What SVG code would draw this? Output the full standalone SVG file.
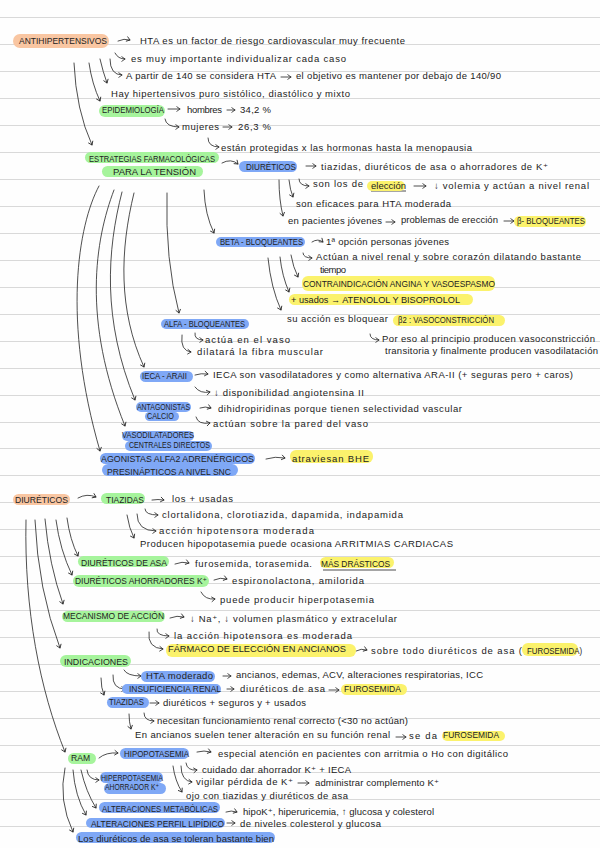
<svg xmlns="http://www.w3.org/2000/svg" width="600" height="848" viewBox="0 0 600 848">
<style>
text{font-family:"Liberation Sans","DejaVu Sans",sans-serif;font-size:9.5px;fill:#222}
.u{font-size:9px}
.o{fill:#f9c6a2}.g{fill:#a6f49c}.b{fill:#7fa8f6}.y{fill:#fbf26c}
.l{stroke:#d9d9d9;stroke-width:1.2;fill:none}
.a{fill:none;stroke:#222;stroke-width:.8;stroke-linecap:round;marker-end:url(#m)}
.n{fill:none;stroke:#222;stroke-width:.8}
</style>
<defs><marker id="m" markerUnits="userSpaceOnUse" markerWidth="7" markerHeight="7" refX="5.5" refY="3.5" orient="auto"><path d="M2 1L5.5 3.5L2 6" fill="none" stroke="#222" stroke-width=".8"/></marker></defs>
<rect width="600" height="848" fill="#fefefe"/>
<g id="rules" class="l"><path d="M0 17.500H600M0 44.500H600M0 71.500H600M0 98.500H600M0 125.500H600M0 152.500H600M0 179.500H600M0 206.500H600M0 233.500H600M0 260.500H600M0 287.500H600M0 314.500H600M0 341.500H600M0 368.500H600M0 395.500H600M0 422.500H600M0 448.500H600M0 475.500H600M0 502.500H600M0 529.500H600M0 556.500H600M0 583.500H600M0 610.500H600M0 637.500H600M0 664.500H600M0 691.500H600M0 718.500H600M0 745.500H600M0 772.500H600M0 799.500H600M0 826.500H600"/></g>
<g id="connectors">
<path class="a" d="M118 41Q124 38 130 40"/>
<path class="a" d="M115 53Q118 59 125 59"/>
<path class="a" d="M110 59Q110 75 122 75"/>
<path class="a" d="M281 77H291"/>
<path class="a" d="M100 59Q103 72 107 83"/>
<path class="a" d="M89 63Q92 84 100 101"/>
<path class="a" d="M74 63Q76 110 92 145"/>
<path class="a" d="M168 109H180"/>
<path class="a" d="M227 110H235"/>
<path class="a" d="M165 119Q166 127 179 127"/>
<path class="a" d="M223 127H232"/>
<path class="a" d="M208 138Q208 147 219 147"/>
<path class="a" d="M222 163Q231 158 238 164"/>
<path class="a" d="M306 166H316"/>
<path class="a" d="M299 179Q299 186 309 186"/>
<path class="a" d="M414 186H426"/>
<path class="a" d="M289 180Q290 190 293 197"/>
<path class="a" d="M279 180Q279 200 283 216"/>
<path class="a" d="M386 222H395"/>
<path class="a" d="M504 221H514"/>
<path class="a" d="M204 190Q205 215 214 233"/>
<path class="a" d="M99 186C78 225 62 320 100 451"/>
<path class="a" d="M114 190C95 240 82 320 125 426"/>
<path class="a" d="M122 192C107 250 102 320 135 400"/>
<path class="a" d="M134 193C120 250 118 310 144 367"/>
<path class="a" d="M167 193Q165 260 179 313"/>
<path class="a" d="M312 242Q318 238 323 242"/>
<path class="a" d="M303 253Q303 258 312 258"/>
<path class="a" d="M291 255Q293 267 298 277"/>
<path class="a" d="M280 257Q282 276 289 292"/>
<path class="a" d="M268 258Q271 288 281 310"/>
<path class="a" d="M195 333Q194 340 203 340"/>
<path class="a" d="M182 335Q180 351 191 352"/>
<path class="a" d="M370 334Q370 340 379 340"/>
<path class="a" d="M195 375Q201 373 208 374"/>
<path class="a" d="M195 387Q200 394 210 392"/>
<path class="a" d="M200 408Q205 406 211 408"/>
<path class="a" d="M196 417Q198 425 210 423"/>
<path class="a" d="M266 459Q275 456 285 458"/>
<path class="a" d="M78 498Q87 493 96 497"/>
<path class="a" d="M152 500Q158 499 164 500"/>
<path class="a" d="M145 509Q145 515 158 515"/>
<path class="a" d="M137 514Q137 531 156 531"/>
<path class="a" d="M127 515Q129 528 134 538"/>
<path class="a" d="M67 518Q70 540 78 556"/>
<path class="a" d="M56 520Q60 550 72 575"/>
<path class="a" d="M45 519Q49 565 63 604"/>
<path class="a" d="M35 520Q38 590 60 648"/>
<path class="a" d="M26 520C24 610 40 690 65 752"/>
<path class="a" d="M175 564Q182 561 189 563"/>
<path class="a" d="M214 580Q220 577 227 579"/>
<path class="a" d="M201 592Q205 600 215 599"/>
<path class="a" d="M170 618Q177 615 184 617"/>
<path class="a" d="M157 629Q156 636 169 636"/>
<path class="a" d="M149 632Q147 648 163 649"/>
<path class="a" d="M356 651Q361 648 367 650"/>
<path class="a" d="M124 670Q127 676 141 676"/>
<path class="a" d="M223 676H231"/>
<path class="a" d="M113 675Q112 689 125 689"/>
<path class="a" d="M227 689H234"/>
<path class="a" d="M329 690H339"/>
<path class="a" d="M101 678Q101 688 104 695"/>
<path class="a" d="M150 703H159"/>
<path class="a" d="M144 713Q144 721 154 721"/>
<path class="a" d="M129 714Q129 722 131 729"/>
<path class="a" d="M396 737H406"/>
<path class="a" d="M99 758Q106 752 118 753"/>
<path class="a" d="M197 752Q204 750 211 752"/>
<path class="a" d="M186 763Q187 771 197 770"/>
<path class="a" d="M181 766Q181 781 192 782"/>
<path class="a" d="M298 783H309"/>
<path class="a" d="M173 766Q175 781 182 792"/>
<path class="a" d="M87 770Q88 780 99 780"/>
<path class="a" d="M81 770Q86 792 96 808"/>
<path class="a" d="M73 770Q75 796 86 815"/>
<path class="a" d="M65 768Q58 800 73 832"/>
<path class="a" d="M226 812Q231 810 237 812"/>
<path class="a" d="M227 823H235"/>
<path class="n" d="M371 191H406M323 570H396"/>
</g>
<g id="n-antihipertensivos"><rect class="o" x="13" y="34" width="96" height="14" rx="7"/><text class="u" x="19" y="44" textLength="88" lengthAdjust="spacingAndGlyphs">ANTIHIPERTENSIVOS</text></g>
<g id="n-notas-hta">
<text x="140" y="44" textLength="265">HTA es un factor de riesgo cardiovascular muy frecuente</text>
<text x="131" y="62" textLength="215">es muy importante individualizar cada caso</text>
<text x="126" y="79" textLength="150">A partir de 140 se considera HTA</text>
<text x="296" y="79" textLength="205">el objetivo es mantener por debajo de 140/90</text>
<text x="111" y="97" textLength="239">Hay hipertensivos puro sistólico, diastólico y mixto</text>
</g>
<g id="n-epidemiologia"><rect class="g" x="99" y="105" width="66" height="12" rx="6"/><text class="u" x="102" y="113" textLength="62" lengthAdjust="spacingAndGlyphs">EPIDEMIOLOGÍA</text>
<text x="187" y="113" textLength="35">hombres</text><text x="240" y="113" textLength="31">34,2 %</text>
<text x="182" y="130" textLength="37">mujeres</text><text x="238" y="130" textLength="33">26,3 %</text>
<text x="221" y="151" textLength="251">están protegidas x las hormonas hasta la menopausia</text></g>
<g id="n-estrategias"><rect class="g" x="85" y="152" width="134" height="11" rx="5.5"/><rect class="g" x="102" y="166" width="101" height="11" rx="5.5"/><text class="u" x="89" y="162" textLength="126" lengthAdjust="spacingAndGlyphs">ESTRATEGIAS FARMACOLÓGICAS</text><text class="u" x="113" y="175" textLength="83" lengthAdjust="spacingAndGlyphs">PARA LA TENSIÓN</text></g>
<g id="n-diureticos-1"><rect class="b" x="239" y="161" width="58" height="11" rx="5.5"/><text class="u" x="246" y="170" textLength="50" lengthAdjust="spacingAndGlyphs">DIURÉTICOS</text>
<text x="321" y="170" textLength="227">tiazidas, diuréticos de asa o ahorradores de K⁺</text>
<text x="313" y="187" textLength="50">son los de</text>
<rect class="y" x="367" y="181" width="38" height="10" rx="5"/><text x="371" y="189" textLength="35">elección</text>
<text x="434" y="189" textLength="155">↓ volemia y actúan a nivel renal</text>
<text x="296" y="207" textLength="155">son eficaces para HTA moderada</text>
<text x="288" y="224" textLength="94">en pacientes jóvenes</text>
<text x="401" y="223" textLength="97">problemas de erección</text>
<rect class="y" x="514" y="216" width="72" height="11" rx="5.5"/><text class="u" x="517" y="224" textLength="68" lengthAdjust="spacingAndGlyphs">β- BLOQUEANTES</text></g>
<g id="n-beta"><rect class="b" x="216" y="237" width="89" height="10" rx="5"/><text class="u" x="220" y="245" textLength="83" lengthAdjust="spacingAndGlyphs">BETA - BLOQUEANTES</text>
<text x="326" y="245" textLength="123">1ª opción personas jóvenes</text>
<text x="316" y="260" textLength="265">Actúan a nivel renal y sobre corazón dilatando bastante</text>
<text x="320" y="273" textLength="26">tiempo</text>
<rect class="y" x="302" y="276" width="193" height="15" rx="6"/><text class="u" x="303" y="287" textLength="192" lengthAdjust="spacingAndGlyphs">CONTRAINDICACIÓN ANGINA Y VASOESPASMO</text>
<rect class="y" x="289" y="294" width="184" height="11" rx="5.5"/><text class="u" x="291" y="303" textLength="169" lengthAdjust="spacingAndGlyphs">+ usados → ATENOLOL Y BISOPROLOL</text>
<text x="287" y="322" textLength="101">su acción es bloquear</text>
<rect class="y" x="393" y="315" width="112" height="11" rx="5.5"/><text class="u" x="398" y="323" textLength="96" lengthAdjust="spacingAndGlyphs">β2 : VASOCONSTRICCIÓN</text>
<text x="382" y="342" textLength="213">Por eso al principio producen vasoconstricción</text>
<text x="385" y="354" textLength="213">transitoria y finalmente producen vasodilatación</text></g>
<g id="n-alfa"><rect class="b" x="161" y="319" width="88" height="10" rx="5"/><text class="u" x="164" y="327" textLength="81" lengthAdjust="spacingAndGlyphs">ALFA - BLOQUEANTES</text>
<text x="205" y="343" textLength="85">actúa en el vaso</text>
<text x="197" y="355" textLength="126">dilatará la fibra muscular</text></g>
<g id="n-ieca"><rect class="b" x="140" y="371" width="53" height="11" rx="5.5"/><text class="u" x="142" y="379" textLength="45" lengthAdjust="spacingAndGlyphs">IECA - ARAII</text>
<text x="213" y="378" textLength="360">IECA son vasodilatadores y como alternativa ARA-II (+ seguras pero + caros)</text>
<text x="214" y="396" textLength="150">↓ disponibilidad angiotensina II</text></g>
<g id="n-antagonistas"><rect class="b" x="136" y="402" width="55" height="10" rx="5"/><rect class="b" x="145" y="412" width="34" height="9" rx="4.5"/><text class="u" x="137" y="410" textLength="53" lengthAdjust="spacingAndGlyphs">ANTAGONISTAS</text><text class="u" x="147" y="419" textLength="27" lengthAdjust="spacingAndGlyphs">CALCIO</text>
<text x="218" y="412" textLength="244">dihidropiridinas porque tienen selectividad vascular</text>
<text x="213" y="427" textLength="155">actúan sobre la pared del vaso</text></g>
<g id="n-vasodilatadores"><rect class="b" x="122" y="431" width="72" height="10" rx="5"/><rect class="b" x="125" y="441" width="87" height="10" rx="5"/><text class="u" x="122" y="438" textLength="72" lengthAdjust="spacingAndGlyphs">VASODILATADORES</text><text class="u" x="129" y="448" textLength="81" lengthAdjust="spacingAndGlyphs">CENTRALES DIRECTOS</text></g>
<g id="n-agonistas"><rect class="b" x="100" y="453" width="155" height="11" rx="5.5"/><rect class="b" x="102" y="464" width="136" height="12" rx="6"/><text class="u" x="101" y="462" textLength="153" lengthAdjust="spacingAndGlyphs">AGONISTAS ALFA2 ADRENÉRGICOS</text><text class="u" x="107" y="475" textLength="124" lengthAdjust="spacingAndGlyphs">PRESINÁPTICOS A NIVEL SNC</text>
<rect class="y" x="290" y="450" width="83" height="13" rx="6"/><text x="292" y="462" textLength="77">atraviesan BHE</text></g>
<g id="n-diureticos-2"><rect class="o" x="13" y="494" width="57" height="11" rx="5.5"/><text class="u" x="15" y="503" textLength="53" lengthAdjust="spacingAndGlyphs">DIURÉTICOS</text></g>
<g id="n-tiazidas-1"><rect class="g" x="101" y="493" width="44" height="11" rx="5.5"/><text class="u" x="106" y="503" textLength="38" lengthAdjust="spacingAndGlyphs">TIAZIDAS</text>
<text x="172" y="502" textLength="61">los + usadas</text>
<text x="162" y="518" textLength="241">clortalidona, clorotiazida, dapamida, indapamida</text>
<text x="159" y="534" textLength="155">acción hipotensora moderada</text>
<text x="140" y="547" textLength="313">Producen hipopotasemia puede ocasiona ARRITMIAS CARDIACAS</text></g>
<g id="n-asa"><rect class="g" x="78" y="556" width="91" height="11" rx="5.5"/><text class="u" x="81" y="566" textLength="86" lengthAdjust="spacingAndGlyphs">DIURÉTICOS DE ASA</text>
<text x="195" y="567" textLength="117">furosemida, torasemida.</text>
<rect class="y" x="320" y="557" width="74" height="11" rx="5.5"/><text class="u" x="321" y="567" textLength="69" lengthAdjust="spacingAndGlyphs">MÁS DRÁSTICOS</text></g>
<g id="n-ahorradores"><rect class="g" x="73" y="575" width="136" height="12" rx="6"/><text class="u" x="75" y="584" textLength="132" lengthAdjust="spacingAndGlyphs">DIURÉTICOS AHORRADORES K⁺</text>
<text x="232" y="584" textLength="132">espironolactona, amilorida</text>
<text x="220" y="603" textLength="154">puede producir hiperpotasemia</text></g>
<g id="n-mecanismo"><rect class="g" x="62" y="611" width="103" height="11" rx="5.5"/><text class="u" x="63" y="619" textLength="101" lengthAdjust="spacingAndGlyphs">MECANISMO DE ACCIÓN</text>
<text x="190" y="622" textLength="207">↓ Na⁺, ↓ volumen plasmático y extracelular</text>
<text x="174" y="639" textLength="178">la acción hipotensora es moderada</text>
<rect class="y" x="166" y="644" width="190" height="13" rx="6"/><text class="u" x="168" y="652" textLength="178" lengthAdjust="spacingAndGlyphs">FÁRMACO DE ELECCIÓN EN ANCIANOS</text>
<text x="371" y="654" textLength="151">sobre todo diuréticos de asa (</text>
<rect class="y" x="522" y="643" width="56" height="13" rx="6"/><text class="u" x="527" y="654" textLength="55" lengthAdjust="spacingAndGlyphs">FUROSEMIDA)</text></g>
<g id="n-indicaciones"><rect class="g" x="60" y="655" width="71" height="12" rx="6"/><text class="u" x="64" y="665" textLength="64" lengthAdjust="spacingAndGlyphs">INDICACIONES</text></g>
<g id="n-hta-moderado"><rect class="b" x="141" y="671" width="74" height="11" rx="5.5"/><text x="146" y="679" textLength="67">HTA moderado</text>
<text x="236" y="678" textLength="247">ancianos, edemas, ACV, alteraciones respiratorias, ICC</text></g>
<g id="n-insuficiencia"><rect class="b" x="122" y="684" width="99" height="10" rx="5"/><text class="u" x="129" y="692" textLength="92" lengthAdjust="spacingAndGlyphs">INSUFICIENCIA RENAL</text>
<text x="240" y="692" textLength="85">diuréticos de asa</text>
<rect class="y" x="341" y="684" width="66" height="11" rx="5.500"/><text class="u" x="344" y="692" textLength="57" lengthAdjust="spacingAndGlyphs">FUROSEMIDA</text></g>
<g id="n-tiazidas-2"><rect class="b" x="107" y="697" width="42" height="11" rx="5.5"/><text class="u" x="109" y="705" textLength="35" lengthAdjust="spacingAndGlyphs">TIAZIDAS</text>
<text x="163" y="706" textLength="143">diuréticos + seguros y + usados</text>
<text x="157" y="724" textLength="251">necesitan funcionamiento renal correcto (&lt;30 no actúan)</text>
<text x="135" y="738" textLength="255">En ancianos suelen tener alteración en su función renal</text>
<text x="409" y="739" textLength="28">se da</text>
<rect class="y" x="442" y="731" width="63" height="10" rx="5"/><text class="u" x="443" y="738" textLength="56" lengthAdjust="spacingAndGlyphs">FUROSEMIDA</text></g>
<g id="n-ram"><rect class="g" x="68" y="753" width="28" height="11" rx="5.5"/><text class="u" x="71" y="761" textLength="19" lengthAdjust="spacingAndGlyphs">RAM</text></g>
<g id="n-hipopotasemia"><rect class="b" x="120" y="748" width="69" height="11" rx="5.5"/><text class="u" x="124" y="757" textLength="65" lengthAdjust="spacingAndGlyphs">HIPOPOTASEMIA</text>
<text x="218" y="757" textLength="290">especial atención en pacientes con arritmia o Ho con digitálico</text>
<text x="202" y="773" textLength="149">cuidado dar ahorrador K⁺ + IECA</text>
<text x="196" y="785" textLength="97">vigilar pérdida de K⁺</text>
<text x="315" y="786" textLength="124">administrar complemento K⁺</text>
<text x="186" y="799" textLength="162">ojo con tiazidas y diuréticos de asa</text></g>
<g id="n-hiperpotasemia"><rect class="b" x="100" y="772" width="63" height="11" rx="5.5"/><rect class="b" x="104" y="783" width="62" height="11" rx="5.5"/><text class="u" x="101" y="781" textLength="62" lengthAdjust="spacingAndGlyphs">HIPERPOTASEMIA</text><text class="u" x="105" y="790" textLength="54" lengthAdjust="spacingAndGlyphs">AHORRADOR K⁺</text></g>
<g id="n-metabolicas"><rect class="b" x="99" y="802" width="121" height="11" rx="5.5"/><text class="u" x="102" y="812" textLength="116" lengthAdjust="spacingAndGlyphs">ALTERACIONES METABÓLICAS</text>
<text x="243" y="815" textLength="191">hipoK⁺, hiperuricemia, ↑ glucosa y colesterol</text></g>
<g id="n-lipidico"><rect class="b" x="86" y="818" width="139" height="10" rx="5"/><text class="u" x="91" y="827" textLength="133" lengthAdjust="spacingAndGlyphs">ALTERACIONES PERFIL LIPÍDICO</text>
<text x="240" y="827" textLength="141">de niveles colesterol y glucosa</text></g>
<g id="n-tolerancia"><rect class="b" x="76" y="832" width="199" height="11" rx="5.5"/><text x="78" y="842" textLength="196">Los diuréticos de asa se toleran bastante bien</text></g>
</svg>
